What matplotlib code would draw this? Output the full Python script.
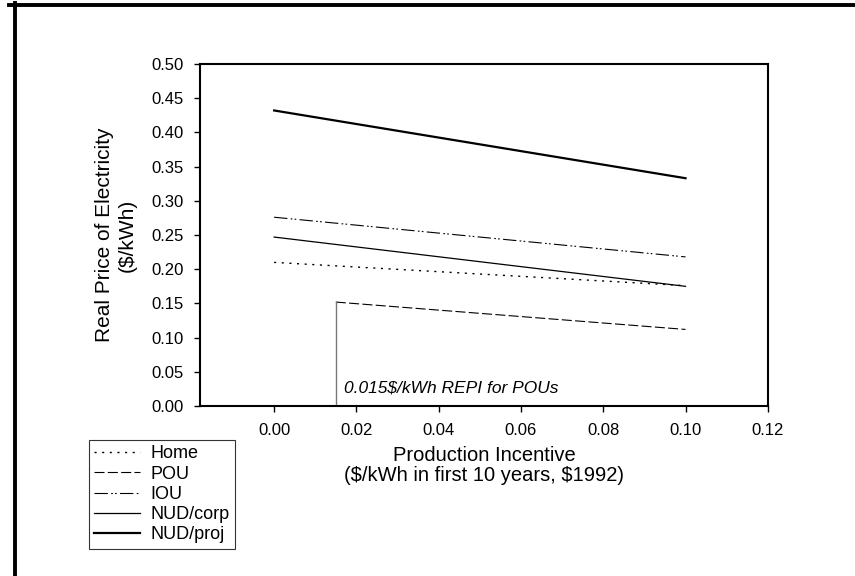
import matplotlib
matplotlib.use("Agg")
import matplotlib.pyplot as plt
from matplotlib.lines import Line2D
from matplotlib.ticker import FormatStrFormatter

plt.rcParams["font.family"] = ["Liberation Sans", "DejaVu Sans"]

# production incentive ($/kWh) at the end points of each curve
x_all = [0.00, 0.10]
x_pou = [0.015, 0.10]
home = [0.210, 0.176]
pou = [0.152, 0.112]
iou = [0.276, 0.218]
nud_corp = [0.247, 0.175]
nud_proj = [0.432, 0.333]
repi = 0.015

fig = plt.figure(figsize=(8.55, 5.76), dpi=100)
ax = fig.add_axes([0.234, 0.295, 0.664, 0.594])

ax.plot(x_all, home, color="k", lw=1.0, ls=(0, (1.5, 4)), label="Home")
ax.plot(x_pou, pou, color="k", lw=0.8, ls=(0, (9, 3)), label="POU")
ax.plot(x_all, iou, color="k", lw=0.8, ls=(0, (12, 3, 1.5, 2, 1.5, 3)), label="IOU")
ax.plot(x_all, nud_corp, color="k", lw=0.9, label="NUD/corp")
ax.plot(x_all, nud_proj, color="k", lw=1.6, label="NUD/proj")
ax.plot([repi, repi], [0, pou[0]], color="#777777", lw=1.0)
ax.text(0.017, 0.02, "0.015\\$/kWh REPI for POUs", fontsize=12.5, style="italic")

ax.set_xlim(-0.018, 0.12)
ax.set_ylim(0, 0.5)
ax.set_xticks([0.00, 0.02, 0.04, 0.06, 0.08, 0.10, 0.12])
ax.set_yticks([i * 0.05 for i in range(11)])
ax.xaxis.set_major_formatter(FormatStrFormatter("%.2f"))
ax.yaxis.set_major_formatter(FormatStrFormatter("%.2f"))
ax.tick_params(labelsize=12, length=4, width=1, pad=8)
for s in ax.spines.values():
    s.set_linewidth(1.5)

ax.set_ylabel("Real Price of Electricity\n(\\$/kWh)", fontsize=15, labelpad=10,
              linespacing=1.3)
ax.set_xlabel("Production Incentive\n(\\$/kWh in first 10 years, \\$1992)", fontsize=14.5,
              labelpad=6, linespacing=1.05)

leg = fig.legend(loc="upper left", bbox_to_anchor=(89 / 855, 1 - 440 / 576), fontsize=13,
                 frameon=True, fancybox=False, edgecolor="k", handlelength=2.5,
                 borderpad=0.3, labelspacing=0.18, handletextpad=0.6, borderaxespad=0)
leg.get_frame().set_linewidth(0.8)

# page frame
fig.add_artist(Line2D([9 / 855, 1], [1 - 4.5 / 576] * 2, color="k", lw=2.8))
fig.add_artist(Line2D([14.5 / 855] * 2, [0, 1 - 3 / 576], color="k", lw=2.8))

fig.savefig("out.png", dpi=100)
